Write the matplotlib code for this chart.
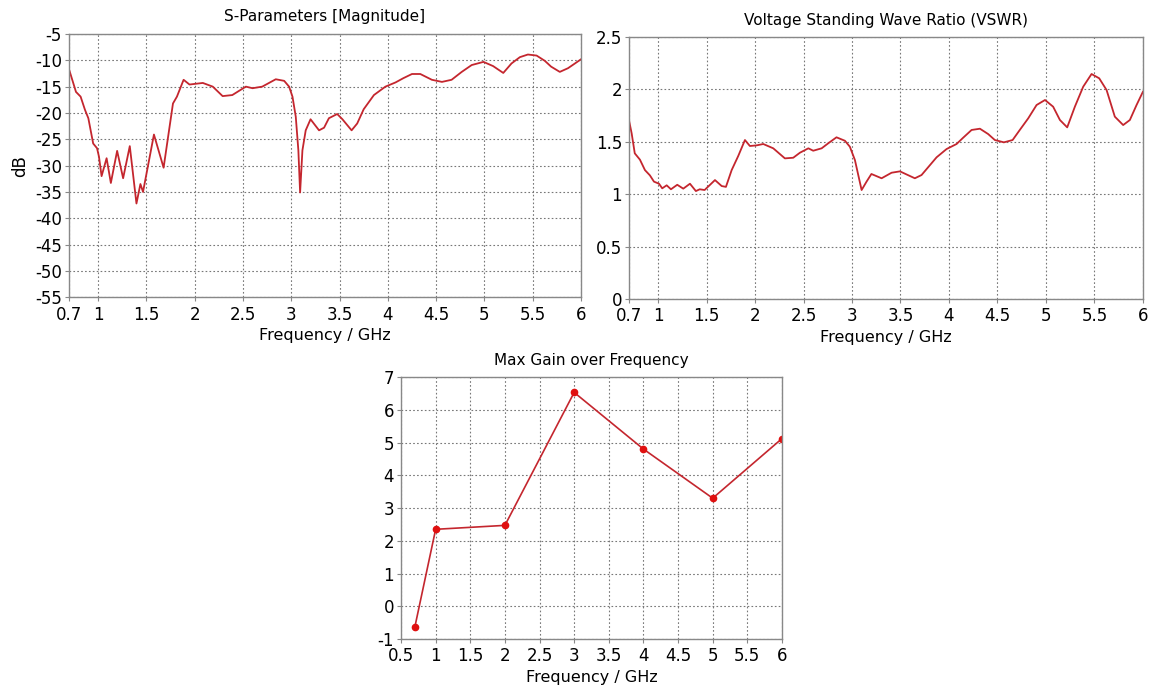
import numpy as np
import matplotlib
matplotlib.use('Agg')
import matplotlib.pyplot as plt

# S11 magnitude [dB]
s11_f = [0.70, 0.772, 0.82, 0.865, 0.90, 0.95, 0.99, 1.01, 1.037, 1.089, 1.133, 1.198,
         1.26, 1.329, 1.398, 1.439, 1.466, 1.579, 1.679, 1.776, 1.817, 1.886, 1.947,
         2.085, 2.188, 2.29, 2.39, 2.53, 2.60, 2.70, 2.84, 2.927, 2.978, 3.013, 3.047,
         3.074, 3.092, 3.116, 3.15, 3.20, 3.288, 3.34, 3.39, 3.476, 3.53, 3.625, 3.683,
         3.75, 3.856, 3.975, 4.08, 4.16, 4.25, 4.336, 4.456, 4.56, 4.66, 4.765, 4.868,
         4.99, 5.09, 5.195, 5.28, 5.367, 5.45, 5.54, 5.625, 5.69, 5.78, 5.865, 6.0]
s11_db = [-11.7, -16.0, -16.9, -19.4, -21.0, -25.8, -26.7, -28.3, -32.0, -28.6, -33.3, -27.2,
          -32.4, -26.3, -37.2, -33.5, -35.0, -24.1, -30.4, -18.2, -16.9, -13.7, -14.6,
          -14.3, -15.0, -16.8, -16.6, -15.0, -15.3, -15.0, -13.6, -13.9, -15.0, -16.9, -20.7,
          -27.1, -35.1, -27.1, -23.3, -21.2, -23.3, -22.8, -21.0, -20.2, -21.2, -23.3, -22.0,
          -19.3, -16.6, -15.0, -14.2, -13.4, -12.6, -12.6, -13.7, -14.1, -13.7, -12.2, -10.9,
          -10.3, -11.1, -12.4, -10.6, -9.4, -8.9, -9.1, -10.1, -11.2, -12.2, -11.5, -9.8]

# VSWR
vswr_f = [0.70, 0.728, 0.76, 0.813, 0.865, 0.916, 0.958, 1.01, 1.043, 1.089, 1.133, 1.198,
          1.26, 1.329, 1.39, 1.43, 1.48, 1.587, 1.656, 1.70, 1.759, 1.827, 1.896, 1.947,
          2.016, 2.085, 2.188, 2.308, 2.394, 2.463, 2.55, 2.60, 2.687, 2.755, 2.84, 2.927,
          2.978, 3.03, 3.099, 3.15, 3.20, 3.305, 3.408, 3.494, 3.648, 3.717, 3.872, 3.975,
          4.078, 4.146, 4.233, 4.319, 4.404, 4.473, 4.566, 4.656, 4.73, 4.817, 4.903, 4.99,
          5.074, 5.144, 5.219, 5.298, 5.384, 5.47, 5.549, 5.625, 5.71, 5.796, 5.865, 5.934, 6.0]
vswr = [1.708, 1.58, 1.39, 1.33, 1.23, 1.18, 1.12, 1.10, 1.056, 1.085, 1.047, 1.09,
        1.053, 1.10, 1.03, 1.047, 1.04, 1.135, 1.078, 1.07, 1.23, 1.365, 1.517, 1.46,
        1.466, 1.479, 1.438, 1.342, 1.348, 1.396, 1.438, 1.415, 1.438, 1.486, 1.543, 1.51,
        1.453, 1.326, 1.04, 1.12, 1.193, 1.152, 1.205, 1.218, 1.152, 1.183, 1.352, 1.431,
        1.479, 1.539, 1.613, 1.625, 1.574, 1.517, 1.495, 1.517, 1.613, 1.724, 1.851, 1.899,
        1.835, 1.708, 1.638, 1.835, 2.026, 2.147, 2.106, 1.994, 1.74, 1.66, 1.708, 1.851, 1.978]

# max gain [dBi]
gain_f = [0.7, 1, 2, 3, 4, 5, 6]
gain = [-0.63, 2.35, 2.47, 6.53, 4.80, 3.30, 5.12]

top_xticks = [0.7, 1, 1.5, 2, 2.5, 3, 3.5, 4, 4.5, 5, 5.5, 6]
top_xlabels = ['0.7', '1', '1.5', '2', '2.5', '3', '3.5', '4', '4.5', '5', '5.5', '6']
gain_xlabels = ['0.5', '1', '1.5', '2', '2.5', '3', '3.5', '4', '4.5', '5', '5.5', '6']

RED = '#c4262e'
FS = 12

plt.rcParams['axes.unicode_minus'] = False

fig = plt.figure(figsize=(11.6, 6.88), dpi=100)


def style(ax, title):
    ax.set_title(title, fontsize=11, pad=9)
    ax.grid(True, linestyle=(0, (1.5, 2)), color='#777777', linewidth=0.8)
    for s in ax.spines.values():
        s.set_color('#888888')
        s.set_linewidth(1.0)
    ax.tick_params(labelsize=FS, length=3, color='#888888')
    ax.tick_params(axis='x', pad=3)
    ax.tick_params(axis='y', pad=2)
    ax.set_xlabel('Frequency / GHz', fontsize=11.5, labelpad=3)


ax1 = fig.add_axes([0.0595, 0.568, 0.4414, 0.3826])
ax1.plot(s11_f, s11_db, color=RED, lw=1.3)
ax1.set_xlim(0.7, 6)
ax1.set_ylim(-55, -5)
ax1.set_xticks(top_xticks, top_xlabels)
ax1.set_yticks(np.arange(-55, 0, 5))
ax1.set_ylabel('dB', fontsize=FS, labelpad=4)
style(ax1, 'S-Parameters [Magnitude]')

ax2 = fig.add_axes([0.5422, 0.5654, 0.4431, 0.3808])
ax2.plot(vswr_f, vswr, color=RED, lw=1.3)
ax2.set_xlim(0.7, 6)
ax2.set_ylim(0, 2.5)
ax2.set_xticks(top_xticks, top_xlabels)
ax2.set_yticks([0, 0.5, 1, 1.5, 2, 2.5], ['0', '0.5', '1', '1.5', '2', '2.5'])
style(ax2, 'Voltage Standing Wave Ratio (VSWR)')

ax3 = fig.add_axes([0.3457, 0.0712, 0.3284, 0.3808])
ax3.plot(gain_f, gain, color=RED, lw=1.2, marker='o', ms=4.5,
         markerfacecolor='#e01010', markeredgecolor='#e01010')
ax3.set_xlim(0.5, 6)
ax3.set_ylim(-1, 7)
ax3.set_xticks(np.arange(0.5, 6.01, 0.5), gain_xlabels)
ax3.set_yticks(np.arange(-1, 8, 1))
style(ax3, 'Max Gain over Frequency')

fig.savefig('out.png', dpi=100)
